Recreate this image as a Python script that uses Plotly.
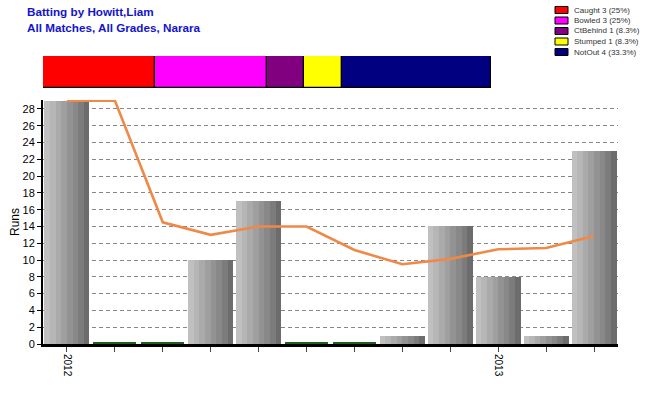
import plotly.graph_objects as go

# ---- data ----
innings = list(range(12))
runs = [29, 0, 0, 10, 17, 0, 0, 1, 14, 8, 1, 23]
average = [29, 29, 14.5, 13, 14, 14, 11.2, 9.5, 10.14, 11.29, 11.43, 12.875]
tick_text = ["2012", "", "", "", "", "", "", "", "", "2013", "", ""]

dismissal_names = ["Caught", "Bowled", "CtBehind", "Stumped", "NotOut"]
dismissal_counts = [3, 3, 1, 1, 4]
dismissal_colors = ["#ff0000", "#ff00ff", "#800080", "#ffff00", "#000080"]

title_lines = ["Batting by Howitt,Liam", "All Matches, All Grades, Narara"]

# ---- styles ----
stripe_colors = ["#c0c0c0", "#b6b6b6", "#aaaaaa", "#9f9f9f", "#939393", "#888888", "#7c7c7c", "#6c6c6c"]
bar_w = 0.94
zero_h = 0.28
FONT = "Liberation Sans, Arial"

fig = go.Figure()

n = len(stripe_colors)
sw = bar_w / n
for k, c in enumerate(stripe_colors):
    fig.add_trace(go.Bar(
        x=innings, y=runs, width=[sw] * len(runs), offset=-bar_w / 2 + k * sw,
        marker=dict(color=c, line=dict(width=0)), showlegend=False,
        xaxis="x", yaxis="y"))

zeros = [zero_h if r == 0 else 0 for r in runs]
fig.add_trace(go.Bar(
    x=innings, y=zeros, width=[bar_w * 0.96] * len(runs),
    marker=dict(color="#1f5f1f", line=dict(width=0)), showlegend=False,
    xaxis="x", yaxis="y"))

fig.add_trace(go.Scatter(
    x=innings, y=average, mode="lines",
    line=dict(color="#f08848", width=2.6), showlegend=False,
    xaxis="x", yaxis="y"))

# stacked dismissal bar
base = 0
for name, cnt, col in zip(dismissal_names, dismissal_counts, dismissal_colors):
    fig.add_trace(go.Bar(
        x=[cnt], y=[0], base=[base], orientation="h", width=1,
        marker=dict(color=col, line=dict(color="black", width=1.2)),
        showlegend=False, xaxis="x2", yaxis="y2"))
    base += cnt

# custom compact legend
total = sum(dismissal_counts)
W, H = 650, 400
ml, mr, mt, mb = 43, 32, 0, 56
pw, ph = W - ml - mr, H - mt - mb
shapes = []
annotations = []
for i, (name, cnt, col) in enumerate(zip(dismissal_names, dismissal_counts, dismissal_colors)):
    pct = round(cnt / total * 100, 1)
    label = f"{name} {cnt} ({pct:g}%)"
    yc = 10 + 10.5 * i
    y0 = 1 - (yc + 3.5) / ph
    y1 = 1 - (yc - 3.5) / ph
    shapes.append(dict(type="rect", xref="paper", yref="paper",
                       x0=(555 - ml) / pw, x1=(568 - ml) / pw, y0=y0, y1=y1,
                       fillcolor=col, line=dict(color="black", width=1)))
    annotations.append(dict(xref="paper", yref="paper", x=(572 - ml) / pw, y=1 - yc / ph,
                            text=label, showarrow=False, xanchor="left", yanchor="middle",
                            font=dict(family=FONT, size=8, color="#333333")))

for j, t in enumerate(title_lines):
    annotations.append(dict(xref="paper", yref="paper", x=(25 - ml) / pw, y=1 - (12 + 15 * j) / ph,
                            text=f"<b>{t}</b>", showarrow=False, xanchor="left", yanchor="middle",
                            font=dict(family=FONT, size=11.7, color="#1414cc")))

fig.update_layout(
    width=W, height=H,
    margin=dict(l=ml, r=mr, t=mt, b=mb, autoexpand=False),
    paper_bgcolor="white", plot_bgcolor="white",
    barmode="overlay", bargap=0,
    xaxis=dict(domain=[0, 1], range=[-0.5, 11.5], tickmode="array", tickvals=innings,
               ticktext=tick_text, tickangle=90, ticks="outside", ticklen=5,
               tickcolor="#444444", showgrid=False, zeroline=False,
               showline=True, linecolor="black", linewidth=3,
               tickfont=dict(family=FONT, size=10, color="black")),
    yaxis=dict(domain=[0, 1 - 100 / ph], range=[0, 29.07], tickmode="linear", tick0=0, dtick=2,
               ticks="outside", ticklen=4, tickcolor="black",
               showgrid=True, gridcolor="#888888", griddash="4px,3px", gridwidth=1,
               zeroline=False, showline=True, linecolor="black", linewidth=2,
               title=dict(text="Runs", standoff=0,
                          font=dict(family=FONT, size=12, color="black")),
               tickfont=dict(family=FONT, size=11, color="black")),
    xaxis2=dict(domain=[0, (491 - ml) / pw], range=[0, total], anchor="y2",
                visible=False, fixedrange=True),
    yaxis2=dict(domain=[1 - 88 / ph, 1 - 56 / ph], range=[-0.5, 0.5], anchor="x2",
                visible=False, fixedrange=True),
    shapes=shapes, annotations=annotations,
)

fig.write_html("out.html", config={"displayModeBar": False},
               post_script="document.body.style.margin='0';")
